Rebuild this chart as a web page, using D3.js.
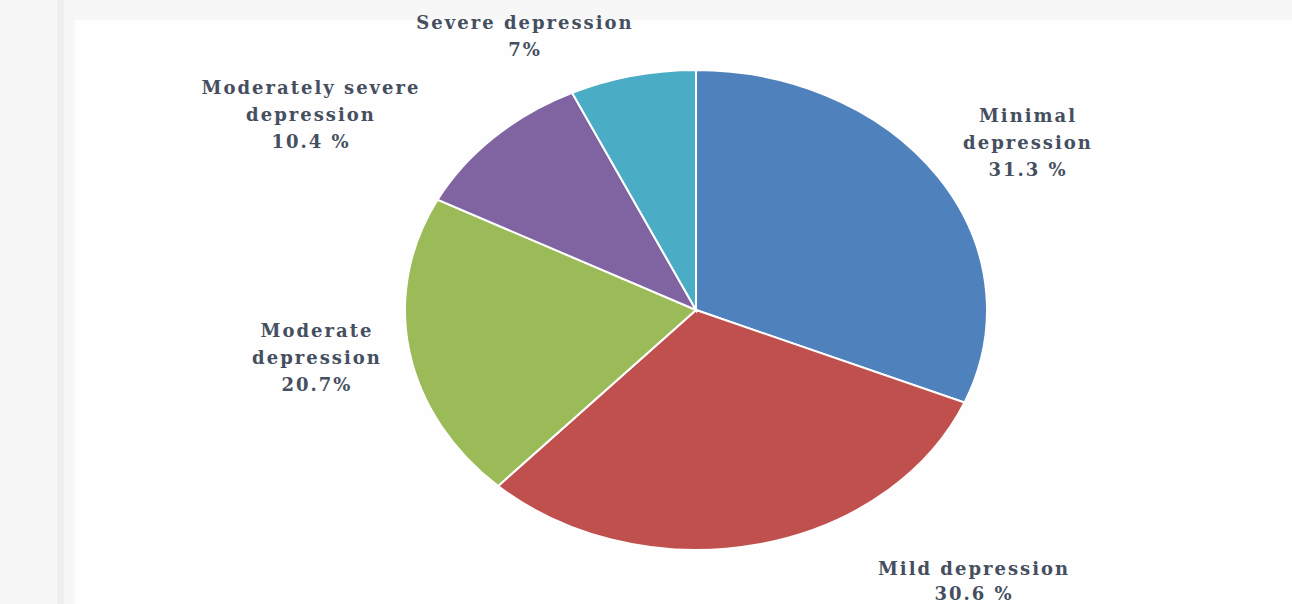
<!DOCTYPE html>
<html><head><meta charset="utf-8">
<script src="https://cdn.jsdelivr.net/npm/d3@7"></script>
<style>html,body{margin:0;padding:0;background:#fff;}svg{display:block;}</style>
</head><body>
<svg id="c" width="1292" height="604"></svg>
<script>
const categories = ["Minimal depression","Mild depression","Moderate depression","Moderately severe depression","Severe depression"];
const values = [31.3, 30.6, 20.7, 10.4, 7];
const valueLabels = ["31.3 %","30.6 %","20.7%","10.4 %","7%"];
const colors = ["#4f81bd","#c0504d","#9bbb59","#8064a2","#4bacc6"];
const labelLines = [["Minimal","depression","31.3 %"],["Mild depression","30.6 %"],["Moderate","depression","20.7%"],["Moderately severe","depression","10.4 %"],["Severe depression","7%"]];

const svg = d3.select("#c");
// frame background
svg.append("rect").attr("x",0).attr("y",0).attr("width",1292).attr("height",604).attr("fill","#f7f7f7");
svg.append("rect").attr("x",57).attr("y",0).attr("width",7).attr("height",604).attr("fill","#efefef");
svg.append("rect").attr("x",75).attr("y",20).attr("width",1217).attr("height",584).attr("fill","#fefefe");

const cx = 696, cy = 310, rx = 291, ry = 240;
const pie = d3.pie().sort(null).value(d=>d)(values);
const arc = d3.arc().innerRadius(0).outerRadius(ry);
const g = svg.append("g").attr("transform",`translate(${cx},${cy}) scale(${rx/ry},1)`);
g.selectAll("path").data(pie).join("path")
  .attr("d",arc)
  .attr("fill",(d,i)=>colors[i])
  .attr("stroke","#ffffff").attr("stroke-width",2)
  .attr("vector-effect","non-scaling-stroke");

// label layout (centers of first line, line spacing)
const labelPos = [[1028,115],[974,568],[317,330],[311,87],[525,22]];
const lh = 27;
labelLines.forEach((lines,i)=>{
  const t = svg.append("text").attr("text-anchor","middle")
    .attr("font-family","'DejaVu Serif', serif").attr("font-weight","bold")
    .attr("font-size",18).attr("fill","#454f60").attr("letter-spacing",2);
  lines.forEach((s,j)=>{
    t.append("tspan").attr("x",labelPos[i][0]).attr("y",labelPos[i][1]+j*(i===1?25:lh))
      .attr("dominant-baseline","central").text(s);
  });
});
</script>
</body></html>
